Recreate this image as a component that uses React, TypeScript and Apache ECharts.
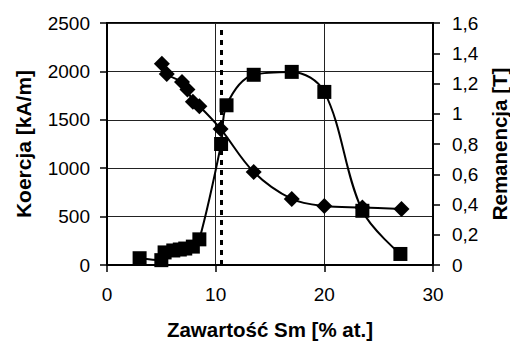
import React, { useEffect, useRef } from "react";
import * as echarts from "echarts";

const coercivityX = [3, 5, 5.3, 6.1, 6.7, 7.2, 7.9, 8.5, 10.5, 11, 13.5, 17, 20, 23.5, 27];
const coercivityY = [70, 50, 130, 150, 160, 170, 190, 265, 1250, 1650, 1965, 1995, 1788, 560, 114];

const remanenceX = [5.05, 5.5, 6.9, 7.4, 7.9, 8.5, 10.45, 13.5, 17, 20, 23.5, 27.1];
const remanenceY = [1.33, 1.262, 1.21, 1.16, 1.08, 1.05, 0.9, 0.615, 0.437, 0.39, 0.38, 0.37];

const dashedX = 10.5;

const xTitle = "Zawartość Sm [% at.]";
const leftTitle = "Koercja [kA/m]";
const rightTitle = "Remanencja [T]";

const FONT = "Liberation Sans, Arial, sans-serif";

export default function App() {
  const ref = useRef<HTMLDivElement>(null);
  useEffect(() => {
    if (!ref.current) return;
    const chart = echarts.init(ref.current, null, { renderer: "svg" });
    const coerc = coercivityX.map((x, i) => [x, coercivityY[i]]);
    const rem = remanenceX.map((x, i) => [x, remanenceY[i]]);
    const labelStyle = { color: "#000", fontFamily: FONT, fontSize: 19 };
    const nameStyle = { color: "#000", fontFamily: FONT, fontSize: 21, fontWeight: "bold" as const };
    chart.setOption({
      animation: false,
      backgroundColor: "#fff",
      grid: {
        left: 107,
        right: 77,
        top: 23,
        bottom: 76,
        containLabel: false,
        outerBoundsMode: "none",
        show: true,
        borderColor: "#000",
        borderWidth: 2,
      },
      xAxis: {
        type: "value",
        min: 0,
        max: 30,
        interval: 10,
        name: xTitle,
        nameLocation: "middle",
        nameGap: 54,
        nameTextStyle: { ...nameStyle, fontSize: 20.5 },
        axisLine: { show: true, onZero: false, lineStyle: { color: "#000", width: 2 } },
        axisTick: { show: true, length: 7, lineStyle: { color: "#000", width: 1.5 } },
        axisLabel: { ...labelStyle, margin: 20 },
        splitLine: { show: true, lineStyle: { color: "#222", width: 1 } },
      },
      yAxis: [
        {
          type: "value",
          min: 0,
          max: 2500,
          interval: 500,
          name: leftTitle,
          nameLocation: "middle",
          nameRotate: 90,
          nameGap: 73,
          nameTextStyle: nameStyle,
          axisLine: { show: true, onZero: false, lineStyle: { color: "#000", width: 2 } },
          axisTick: { show: true, length: 7, lineStyle: { color: "#000", width: 1.5 } },
          axisLabel: { ...labelStyle, margin: 17, formatter: (v: number) => String(v) },
          splitLine: { show: true, lineStyle: { color: "#222", width: 1 } },
        },
        {
          type: "value",
          min: 0,
          max: 1.6,
          interval: 0.2,
          position: "right",
          name: rightTitle,
          nameLocation: "middle",
          nameRotate: 90,
          nameGap: 55,
          nameTextStyle: { ...nameStyle, fontSize: 20.5 },
          axisLine: { show: true, onZero: false, lineStyle: { color: "#000", width: 2 } },
          axisTick: { show: true, length: 7, lineStyle: { color: "#000", width: 1.5 } },
          axisLabel: {
            ...labelStyle,
            margin: 19,
            formatter: (v: number) => String(+v.toFixed(1)).replace(".", ","),
          },
          splitLine: { show: false },
        },
      ],
      series: [
        {
          type: "line",
          yAxisIndex: 0,
          data: coerc,
          smooth: 0.35,
          symbol: "rect",
          symbolSize: 14,
          itemStyle: { color: "#000" },
          lineStyle: { color: "#000", width: 2 },
          z: 3,
          markLine: {
            silent: true,
            symbol: "none",
            label: { show: false },
            lineStyle: { color: "#000", width: 3, type: [5, 5] },
            data: [[{ coord: [dashedX, 0] }, { coord: [dashedX, 2440] }]],
          },
        },
        {
          type: "line",
          yAxisIndex: 1,
          data: rem,
          smooth: 0.35,
          symbol: "diamond",
          symbolSize: 16,
          itemStyle: { color: "#000" },
          lineStyle: { color: "#000", width: 2 },
          z: 4,
        },
      ],
    });
    return () => chart.dispose();
  }, []);
  return (
    <div
      ref={ref}
      style={{ position: "fixed", left: 0, top: 0, width: 510, height: 341, background: "#fff" }}
    />
  );
}
